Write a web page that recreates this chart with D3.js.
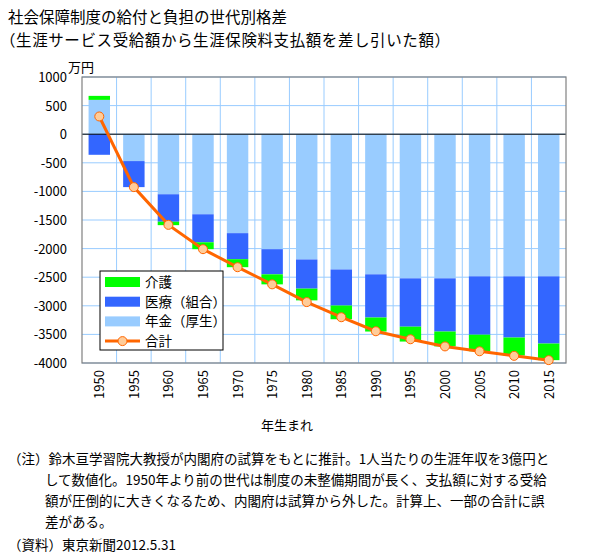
<!DOCTYPE html>
<html><head><meta charset="utf-8">
<script src="https://cdn.jsdelivr.net/npm/d3@7"></script>
<style>
body{margin:0;background:#fff;}
text{font-family:"Noto Sans CJK JP","Noto Sans",sans-serif;fill:#000;}
</style></head>
<body><svg id="c" width="591" height="555"></svg>
<script>
const years = ["1950","1955","1960","1965","1970","1975","1980","1985","1990","1995","2000","2005","2010","2015"];
const kaigo = [70, 0, -60, -120, -140, -175, -205, -240, -245, -260, -260, -290, -315, -290];
const iryo = [-360, -455, -480, -490, -455, -440, -510, -630, -755, -845, -930, -1020, -1070, -1175];
const nenkin = [600, -470, -1050, -1400, -1730, -2010, -2190, -2365, -2450, -2520, -2520, -2485, -2485, -2485];
const total = [310, -925, -1585, -2010, -2325, -2625, -2935, -3200, -3445, -3585, -3710, -3795, -3875, -3950];
const yTicks = [1000, 500, 0, -500, -1000, -1500, -2000, -2500, -3000, -3500, -4000];
const seriesNames = ["年金(厚生)", "医療(組合)", "介護"];
const colors = {"介護":"#00ff00","医療(組合)":"#3366ff","年金(厚生)":"#99ccff"};

const svg = d3.select("#c");
const L = 82, R = 566, T = 77, B = 363;
const x = d3.scaleBand().domain(years).range([L, R]).paddingInner(0.38).paddingOuter(0.19);
const xb = d3.scaleBand().domain(years).range([L, R]);
const y = d3.scaleLinear().domain([-4000, 1000]).range([B, T]);

// title
svg.append("text").attr("x", 8).attr("y", 23).attr("font-size", 15.5).text("社会保障制度の給付と負担の世代別格差");
svg.append("text").attr("x", 0).attr("y", 46).attr("font-size", 15.5).attr("textLength", 450).text("（生涯サービス受給額から生涯保険料支払額を差し引いた額）");
svg.append("text").attr("x", 68).attr("y", 72).attr("font-size", 13).text("万円");

// gridlines
const g = svg.append("g");
g.selectAll("line.h").data(yTicks).join("line")
  .attr("x1", L).attr("x2", R).attr("y1", d => y(d)).attr("y2", d => y(d))
  .attr("stroke", "#99ccff").attr("stroke-width", 1);
g.selectAll("line.v").data(years.slice(1)).join("line")
  .attr("x1", d => xb(d)).attr("x2", d => xb(d)).attr("y1", T).attr("y2", B)
  .attr("stroke", "#99ccff").attr("stroke-width", 1);

// stacked bars
const table = years.map((yr, i) => ({year: yr, "介護": kaigo[i], "医療(組合)": iryo[i], "年金(厚生)": nenkin[i]}));
const stack = d3.stack().keys(seriesNames).offset(d3.stackOffsetDiverging);
const layers = stack(table);
svg.append("g").selectAll("g").data(layers).join("g")
  .attr("fill", d => colors[d.key])
  .selectAll("rect").data(d => d).join("rect")
  .attr("x", d => x(d.data.year)).attr("width", x.bandwidth())
  .attr("y", d => y(Math.max(d[0], d[1])))
  .attr("height", d => Math.abs(y(d[0]) - y(d[1])));

// zero line
svg.append("line").attr("x1", L).attr("x2", R).attr("y1", y(0)).attr("y2", y(0)).attr("stroke", "#000").attr("stroke-width", 1);

// frame
svg.append("rect").attr("x", L).attr("y", T).attr("width", R - L).attr("height", B - T)
  .attr("fill", "none").attr("stroke", "#808080").attr("stroke-width", 1.2);

// y axis labels
svg.append("g").selectAll("text").data(yTicks).join("text")
  .attr("x", 67).attr("y", d => y(d) + 5).attr("text-anchor", "end").attr("font-size", 13)
  .text(d => d < 0 ? "-" + Math.abs(d) : d);

// x axis labels
svg.append("g").selectAll("text").data(years).join("text")
  .attr("transform", d => `translate(${xb(d) + xb.bandwidth() / 2 + 5},370) rotate(-90)`)
  .attr("text-anchor", "end").attr("font-size", 13).text(d => d);
svg.append("text").attr("x", 287).attr("y", 430).attr("text-anchor", "middle").attr("font-size", 13).text("年生まれ");

// total line
const line = d3.line().x((d, i) => xb(years[i]) + xb.bandwidth() / 2).y(d => y(d));
svg.append("path").datum(total).attr("d", line).attr("fill", "none").attr("stroke", "#ff6600").attr("stroke-width", 3);
svg.append("g").selectAll("circle").data(total).join("circle")
  .attr("cx", (d, i) => xb(years[i]) + xb.bandwidth() / 2).attr("cy", d => y(d)).attr("r", 4.5)
  .attr("fill", "#ffcc99").attr("stroke", "#ff6600").attr("stroke-width", 1);

// legend
const lg = svg.append("g");
lg.append("rect").attr("x", 100).attr("y", 271).attr("width", 123).attr("height", 79)
  .attr("fill", "#fff").attr("stroke", "#000").attr("stroke-width", 1);
const legendItems = ["介護", "医療(組合)", "年金(厚生)"];
legendItems.forEach((k, i) => {
  const cy = 282 + i * 19.7;
  lg.append("rect").attr("x", 105).attr("y", cy - 5).attr("width", 35).attr("height", 10).attr("fill", colors[k]);
  lg.append("text").attr("x", 145).attr("y", cy + 5).attr("font-size", 13.5).text(k.replace("(", "（").replace(")", "）"));
});
const ly = 282 + 3 * 19.7;
lg.append("line").attr("x1", 105).attr("x2", 140).attr("y1", ly).attr("y2", ly).attr("stroke", "#ff6600").attr("stroke-width", 3);
lg.append("circle").attr("cx", 122.5).attr("cy", ly).attr("r", 4.5).attr("fill", "#ffcc99").attr("stroke", "#ff6600");
lg.append("text").attr("x", 145).attr("y", ly + 5).attr("font-size", 13.5).text("合計");

// notes
const notes = [
  [8, 464, "（注）鈴木亘学習院大教授が内閣府の試算をもとに推計。1人当たりの生涯年収を3億円と"],
  [45, 485, "して数値化。1950年より前の世代は制度の未整備期間が長く、支払額に対する受給"],
  [45, 506, "額が圧倒的に大きくなるため、内閣府は試算から外した。計算上、一部の合計に誤"],
  [45, 527, "差がある。"],
  [8, 550, "（資料）東京新聞2012.5.31"]
];
svg.append("g").selectAll("text").data(notes).join("text")
  .attr("x", d => d[0]).attr("y", d => d[1]).attr("font-size", 13.5).text(d => d[2]);
</script></body></html>
